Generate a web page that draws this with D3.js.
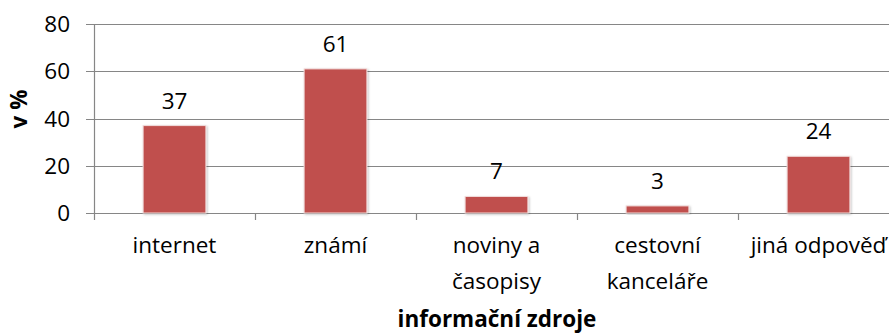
<!DOCTYPE html>
<html>
<head>
<meta charset="utf-8">
<script src="https://cdn.jsdelivr.net/npm/d3@7"></script>
<style>
  html, body { margin: 0; padding: 0; background: #fff; }
  svg { display: block; }
  text { font-family: "Open Sans", Lato, sans-serif; fill: #000; }
</style>
</head>
<body>
<svg id="chart" width="889" height="333"></svg>
<script>
// Information sources (percent of respondents)
const categories = ["internet", "známí", "noviny a|časopisy", "cestovní|kanceláře", "jiná odpověď"];
const values = [37, 61, 7, 3, 24];
const yTicks = [0, 20, 40, 60, 80];
const yTitle = "v %";
const xTitle = "informační zdroje";

const svg = d3.select("#chart");
const margin = { left: 94, top: 24 };
const plotW = 805;
const plotH = 189;
const fs = "22.5px";

const x = d3.scaleBand().domain(categories).range([margin.left, margin.left + plotW]).paddingInner(0.61).paddingOuter(0.305);
const y = d3.scaleLinear().domain([0, 80]).range([margin.top + plotH, margin.top]);

const defs = svg.append("defs");
const f = defs.append("filter").attr("id", "shadow").attr("x", "-20%").attr("y", "-20%").attr("width", "140%").attr("height", "140%");
f.append("feDropShadow").attr("dx", 1).attr("dy", 1).attr("stdDeviation", 1).attr("flood-color", "#000").attr("flood-opacity", 0.25);

// Horizontal gridlines with outward ticks
svg.append("g").selectAll("line").data(yTicks).join("line")
  .attr("x1", margin.left - 8).attr("x2", margin.left + plotW)
  .attr("y1", d => Math.round(y(d)) + 0.5).attr("y2", d => Math.round(y(d)) + 0.5)
  .attr("stroke", "#868686").attr("stroke-width", 1.2);

// Y axis line
svg.append("line")
  .attr("x1", margin.left + 0.5).attr("x2", margin.left + 0.5)
  .attr("y1", y(80)).attr("y2", y(0))
  .attr("stroke", "#868686").attr("stroke-width", 1.2);

// Y tick labels
svg.append("g").selectAll("text").data(yTicks).join("text")
  .attr("x", margin.left - 24).attr("y", d => y(d))
  .attr("dy", "0.36em").attr("text-anchor", "end")
  .style("font-size", fs).text(d => d);

// Category boundary ticks on x axis
const bounds = d3.range(categories.length + 1).map(i => margin.left + i * plotW / categories.length);
svg.append("g").selectAll("line").data(bounds).join("line")
  .attr("x1", d => Math.round(d) + 0.5).attr("x2", d => Math.round(d) + 0.5)
  .attr("y1", y(0)).attr("y2", y(0) + 7)
  .attr("stroke", "#868686").attr("stroke-width", 1.2);

// Bars
svg.append("g").selectAll("rect").data(values).join("rect")
  .attr("x", (d, i) => x(categories[i]))
  .attr("y", d => y(d))
  .attr("width", x.bandwidth())
  .attr("height", d => y(0) - y(d))
  .attr("fill", "#C0504D")
  .attr("stroke", "#F2DCDB").attr("stroke-width", 1)
  .attr("filter", "url(#shadow)");

// Value labels
svg.append("g").selectAll("text").data(values).join("text")
  .attr("x", (d, i) => x(categories[i]) + x.bandwidth() / 2)
  .attr("y", d => y(d) - 17)
  .attr("text-anchor", "middle")
  .style("font-size", fs).text(d => d);

// Category labels (wrapped on "|")
const catG = svg.append("g");
categories.forEach((c, i) => {
  const cx = x(c) + x.bandwidth() / 2;
  const t = catG.append("text").attr("text-anchor", "middle").style("font-size", fs);
  c.split("|").forEach((line, j) => {
    t.append("tspan").attr("x", cx).attr("y", 253 + j * 36).text(line);
  });
});

// Axis titles
svg.append("text")
  .attr("x", 497).attr("y", 327)
  .attr("text-anchor", "middle")
  .style("font-size", fs).style("font-weight", "bold")
  .text(xTitle);

svg.append("text")
  .attr("transform", "translate(27,109) rotate(-90)")
  .attr("text-anchor", "middle")
  .style("font-size", fs).style("font-weight", "bold")
  .text(yTitle);
</script>
</body>
</html>
